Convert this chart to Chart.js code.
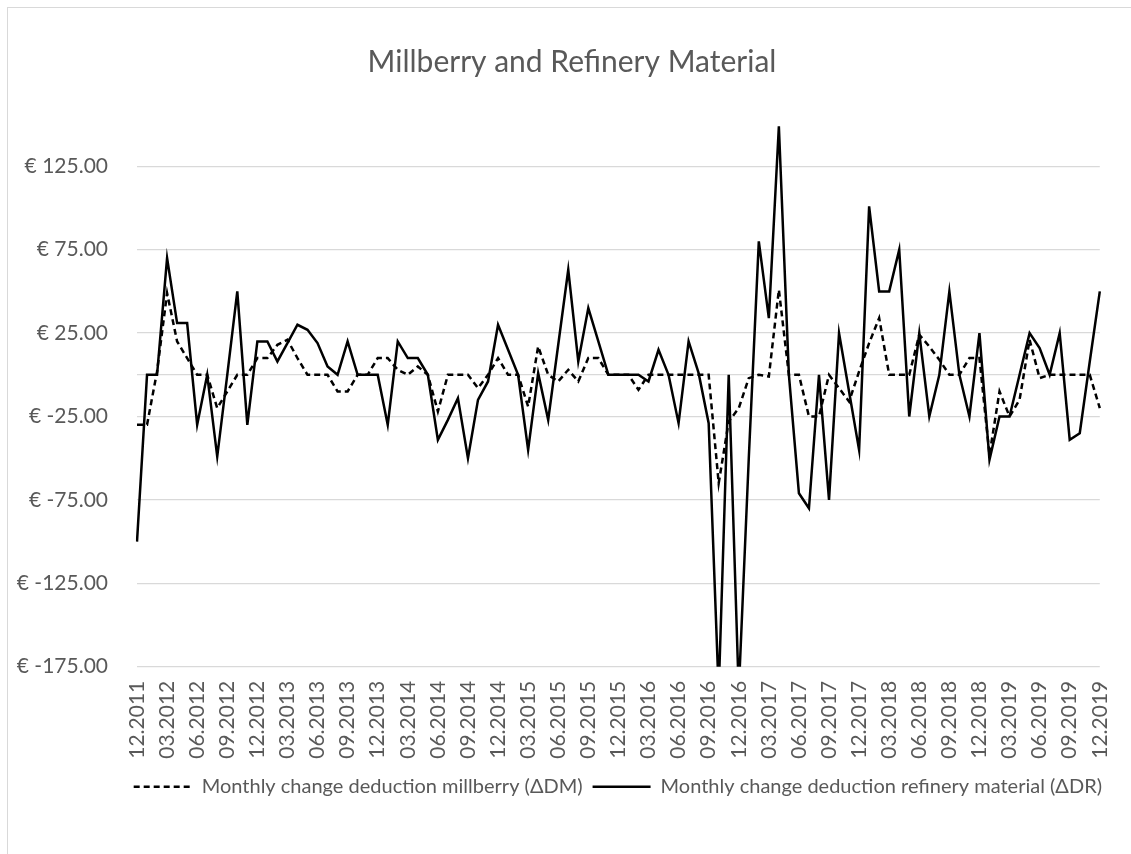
<!DOCTYPE html>
<html>
<head>
<meta charset="utf-8">
<script src="https://cdn.jsdelivr.net/npm/chart.js@4"></script>
<style>
  html, body { margin: 0; padding: 0; background: #fff; }
  #wrap { position: relative; width: 1131px; height: 854px; }
  #frame { position: absolute; left: 7px; top: 7px; width: 1140px; height: 870px; border: 1px solid #d9d9d9; box-sizing: border-box; }
</style>
</head>
<body>
<div id="wrap">
  <div id="frame"></div>
  <canvas id="LineChart" width="1131" height="854" style="position:absolute;left:0;top:0;"></canvas>
</div>
<script>
const months = [
    '12.2011',
    '01.2012', '02.2012', '03.2012', '04.2012', '05.2012', '06.2012', '07.2012', '08.2012', '09.2012', '10.2012', '11.2012', '12.2012',
    '01.2013', '02.2013', '03.2013', '04.2013', '05.2013', '06.2013', '07.2013', '08.2013', '09.2013', '10.2013', '11.2013', '12.2013',
    '01.2014', '02.2014', '03.2014', '04.2014', '05.2014', '06.2014', '07.2014', '08.2014', '09.2014', '10.2014', '11.2014', '12.2014',
    '01.2015', '02.2015', '03.2015', '04.2015', '05.2015', '06.2015', '07.2015', '08.2015', '09.2015', '10.2015', '11.2015', '12.2015',
    '01.2016', '02.2016', '03.2016', '04.2016', '05.2016', '06.2016', '07.2016', '08.2016', '09.2016', '10.2016', '11.2016', '12.2016',
    '01.2017', '02.2017', '03.2017', '04.2017', '05.2017', '06.2017', '07.2017', '08.2017', '09.2017', '10.2017', '11.2017', '12.2017',
    '01.2018', '02.2018', '03.2018', '04.2018', '05.2018', '06.2018', '07.2018', '08.2018', '09.2018', '10.2018', '11.2018', '12.2018',
    '01.2019', '02.2019', '03.2019', '04.2019', '05.2019', '06.2019', '07.2019', '08.2019', '09.2019', '10.2019', '11.2019', '12.2019'
];

// monthly change deduction millberry (dashed)
const millberry = [
    -30, -30, 2, 49, 20, 10, 0, 0, -20, -10,
    0, 0, 10, 10, 18, 21, 10, 0, 0, 0,
    -10, -10, 0, 0, 10, 10, 3, 0, 5, 0,
    -22, 0, 0, 0, -8, 0, 10, 0, 0, -19,
    17, 0, -4, 3, -4, 10, 10, 0, 0, 0,
    -9, 0, 0, 0, 0, 0, 0, 0, -65, -28,
    -20, -2, 0, -1, 51, 0, 0, -25, -25, 0,
    -8, -16, 2, 19, 34, 0, 0, 0, 24, 17,
    9, 0, 0, 10, 10, -48, -10, -25, -15, 21,
    -2, 0, 0, 0, 0, 0, -20
];

// monthly change deduction refinery material (solid)
const refinery = [
    -100, 0, 0, 70, 31, 31, -30, 0, -49, 0,
    50, -30, 20, 20, 8, 19, 30, 27, 19, 5,
    0, 20, 0, 0, 0, -30, 20, 10, 10, 0,
    -39, -27, -14, -50, -15, -4, 30, 15, 0, -45,
    1, -27, 18, 63, 8, 40, 20, 0, 0, 0,
    0, -4, 15, 0, -29, 20, 1, -29, -190, 0,
    -190, -50, 80, 34, 149, 0, -71, -80, 0, -75,
    25, -10, -45, 101, 50, 50, 75, -25, 25, -25,
    0, 50, 0, -25, 25, -51, -25, -25, 0, 25,
    16, 0, 25, -39, -35, 8, 50
];

const yTicks = [-175, -125, -75, -25, 0, 25, 75, 125];

Chart.defaults.font.family = 'Lato';
Chart.defaults.color = '#595959';

const data_line = {
    labels: months,
    datasets: [{
        label: 'Monthly change deduction millberry (\u0394DM)',
        data: millberry,
        borderColor: '#000',
        backgroundColor: '#000',
        borderWidth: 2.5,
        borderDash: [6, 4],
        pointRadius: 0,
        tension: 0
    }, {
        label: 'Monthly change deduction refinery material (\u0394DR)',
        data: refinery,
        borderColor: '#000',
        backgroundColor: '#000',
        borderWidth: 2.5,
        pointRadius: 0,
        tension: 0
    }]
};

// y labels reach further left than the axis box, so don't clip them to it
const yLabelRoom = {
    id: 'yLabelRoom',
    afterLayout: (chart) => { chart.scales.y.left = 0; }
};

const config_line = {
    type: 'line',
    data: data_line,
    plugins: [yLabelRoom],
    options: {
        responsive: false,
        animation: false,
        layout: {
            padding: { left: 32, right: 19, top: 0, bottom: 47.3 }
        },
        scales: {
            x: {
                offset: false,
                grid: { display: false },
                border: { display: false },
                ticks: {
                    autoSkip: false,
                    minRotation: 90,
                    maxRotation: 90,
                    padding: 6,
                    font: { size: 21 },
                    callback: function (val, idx) {
                        return idx % 3 === 0 ? this.getLabelForValue(val) : '';
                    }
                },
                afterFit: (axis) => { axis.height = 100; }
            },
            y: {
                min: -175,
                max: 150,
                grid: { color: '#d9d9d9', lineWidth: 1.3, drawTicks: false },
                border: { display: false },
                ticks: {
                    padding: 29,
                    font: { size: 21 },
                    callback: (v) => v === 0 ? '' : '\u20AC ' + v.toFixed(2)
                },
                afterBuildTicks: (axis) => { axis.ticks = yTicks.map(v => ({ value: v })); },
                afterFit: (axis) => { axis.width = 105; }
            },
            // thin empty strip on the right so the plot ends where the reference does
            yRight: {
                position: 'right',
                grid: { display: false },
                border: { display: false },
                ticks: { display: false },
                afterFit: (axis) => { axis.width = 9; }
            }
        },
        plugins: {
            legend: {
                position: 'bottom',
                align: 'end',
                labels: {
                    usePointStyle: true,
                    pointStyle: 'line',
                    pointStyleWidth: 58,
                    padding: 10,
                    color: '#595959',
                    font: { size: 20 },
                    generateLabels: (chart) => chart.data.datasets.map((ds, i) => ({
                        text: ds.label,
                        datasetIndex: i,
                        pointStyle: 'line',
                        strokeStyle: '#000',
                        fillStyle: '#000',
                        lineWidth: 2.5,
                        lineDash: ds.borderDash || [],
                        fontColor: '#595959'
                    }))
                }
            },
            title: {
                display: true,
                text: 'Millberry and Refinery Material',
                color: '#595959',
                font: { size: 30, weight: 'normal' },
                padding: { top: 44, bottom: 44.6 }
            },
            tooltip: { enabled: false }
        }
    }
};

const myChart_Line = new Chart(
    document.getElementById('LineChart'),
    config_line
);
</script>
</body>
</html>
